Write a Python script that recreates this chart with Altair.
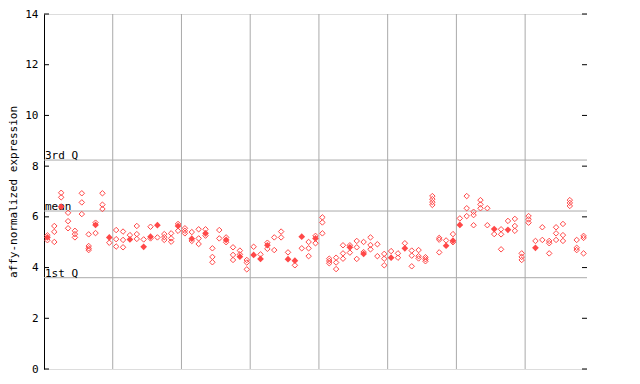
import altair as alt
import pandas as pd

# replicate values per sample column (hollow diamonds)
sample_values = [
    [5.27, 5.08], [5.64, 5.41, 5.01], [6.95, 6.77], [6.16, 5.83, 5.55], [5.45, 5.32, 5.19],
    [6.93, 6.57, 6.11], [5.31, 4.85, 4.76, 4.69], [5.77, 5.36], [6.93, 6.48, 6.31], [4.98],
    [5.48, 5.12, 4.83], [5.42, 5.09, 4.80], [5.28], [5.64, 5.32, 5.13], [5.11],
    [5.61, 5.15], [5.19], [5.32, 5.20, 5.09], [5.35, 5.15, 5.02], [5.72, 5.45],
    [5.55, 5.45, 5.35], [5.40, 5.05], [5.51, 5.15, 4.93], [5.51, 5.26], [4.76, 4.42, 4.21],
    [5.48, 5.15], [5.19, 5.00], [4.80, 4.50, 4.30], [4.67, 4.52], [4.30, 4.20, 3.93],
    [4.82], [4.52], [4.98, 4.74], [5.19, 4.69], [5.42, 5.19],
    [4.60], [4.09], [4.76], [5.01, 4.76, 4.45], [5.25, 4.96],
    [5.98, 5.78, 5.35], [4.35, 4.26, 4.17], [4.39, 4.20, 3.94], [4.88, 4.56, 4.35], [4.88, 4.59],
    [5.05, 4.80, 4.34], [5.01, 4.61], [5.19, 4.89, 4.72], [4.92, 4.45], [4.54, 4.35, 4.09],
    [4.65], [4.56, 4.39], [4.96], [4.67, 4.47, 4.05], [4.69, 4.45, 4.36],
    [4.41, 4.33, 4.25], [6.82, 6.70, 6.58, 6.47], [5.17, 5.10, 4.60], [5.07], [5.32, 5.00],
    [5.94], [6.82, 6.34, 6.03], [6.20, 6.07, 5.67], [6.66, 6.49, 6.34], [6.34, 5.67],
    [5.32], [5.51, 5.31, 4.72], [5.84], [5.92, 5.64, 5.45], [4.56, 4.42, 4.30],
    [6.03, 5.90, 5.77], [5.05], [5.59, 5.09], [5.05, 4.96, 4.56], [5.59, 5.35, 5.09],
    [5.72, 5.28, 5.05], [6.66, 6.55, 6.43], [5.09, 4.78, 4.69], [5.25, 5.17, 4.56],
]

# highlighted (filled) value per sample column, None where absent
filled_values = [
    5.19, None, 6.40, None, None, None, None, 5.68, None, 5.19,
    None, None, 5.11, None, 4.82, 5.22, 5.67, None, None, 5.64,
    None, 5.14, None, 5.35, None, None, 5.09, None, 4.43, None,
    4.50, 4.34, 4.88, None, None, 4.33, 4.27, 5.22, None, 5.15,
    None, None, None, None, 4.80, None, 4.54, None, None, None,
    4.39, None, 4.76, None, None, None, None, None, 4.86, 5.06,
    5.68, None, None, None, None, 5.52, None, 5.49, None, None,
    None, 4.78, None, None, None, None, None, None, None,
]

quartile_labels = ["3rd Q", "mean", "1st Q"]
quartile_values = [8.24, 6.23, 3.60]
y_ticks = [0, 2, 4, 6, 8, 10, 12, 14]
group_bounds = [10, 20, 30, 40, 50, 60, 70]

N = len(sample_values)
W, H = 543, 355
RED = "#ff4848"
GRID = "#aaaaaa"
FONT = "DejaVu Sans Mono"

hollow_df = pd.DataFrame(
    [{"x": i + 0.5, "v": v} for i, vals in enumerate(sample_values) for v in vals]
)
filled_df = pd.DataFrame(
    [{"x": i + 0.5, "v": v} for i, v in enumerate(filled_values) if v is not None]
)
q_df = pd.DataFrame({"label": quartile_labels, "v": quartile_values})
tick_df = pd.DataFrame({"v": y_ticks})
grid_df = pd.DataFrame({"x": group_bounds})

xs = alt.Scale(domain=[0, N], nice=False, zero=False)
ys = alt.Scale(domain=[0, 14], nice=False, zero=False)

y_axis = alt.Axis(
    values=y_ticks,
    ticks=False,
    grid=False,
    domain=True,
    domainColor="black",
    labelFont=FONT,
    labelFontSize=11,
    labelColor="black",
    labelPadding=6,
    title="affy-normalized expression",
    titleFont=FONT,
    titleFontSize=11,
    titleFontWeight="normal",
    titleColor="black",
    titlePadding=6,
)


def Y():
    return alt.Y("v:Q", scale=ys, axis=y_axis, title="affy-normalized expression")


def X():
    return alt.X("x:Q", scale=xs, axis=None)


base_grid = alt.Chart(q_df).mark_rule(color=GRID, strokeWidth=1).encode(y=Y())
vgrid = alt.Chart(grid_df).mark_rule(color=GRID, strokeWidth=1).encode(x=X())
qtext = alt.Chart(q_df).mark_text(
    align="left", baseline="alphabetic", font=FONT, fontSize=11, color="black", dy=-1
).encode(x=alt.value(1), y=Y(), text="label:N")

hollow = alt.Chart(hollow_df).mark_point(
    shape="diamond", filled=False, color=RED, strokeWidth=1, size=30, opacity=1
).encode(x=X(), y=Y())
filled = alt.Chart(filled_df).mark_point(
    shape="diamond", filled=True, color=RED, size=45, opacity=1
).encode(x=X(), y=Y())

lticks = alt.Chart(tick_df).mark_rule(color="black", strokeWidth=1).encode(
    y=Y(), x=alt.value(0), x2=alt.value(5)
)
rticks = alt.Chart(tick_df).mark_rule(color="black", strokeWidth=1).encode(
    y=Y(), x=alt.value(W - 5), x2=alt.value(W)
)

chart = (
    alt.layer(base_grid, vgrid, qtext, hollow, filled, lticks, rticks)
    .properties(
        width=W,
        height=H,
        autosize=alt.AutoSizeParams(type="none"),
        padding={"left": 36, "top": 6, "right": 0, "bottom": 8},
    )
    .configure_view(stroke="black", strokeWidth=1)
    .configure(background="white")
)

chart.save("out.html", embed_options={"renderer": "svg", "actions": False})
